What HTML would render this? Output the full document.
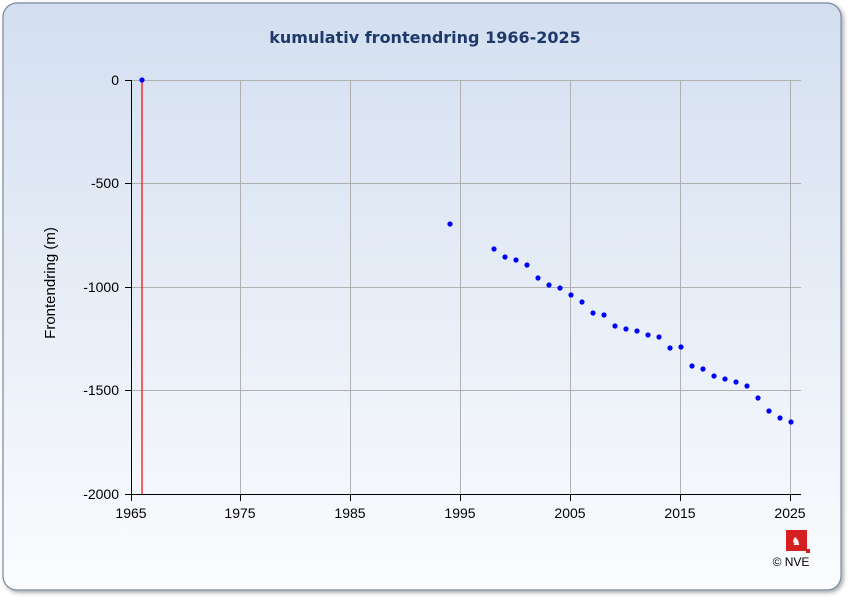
<!DOCTYPE html>
<html><head><meta charset="utf-8"><style>
body{margin:0;background:#fff;}
svg{display:block;font-family:"Liberation Sans","DejaVu Sans",sans-serif;}
</style></head><body>
<svg width="850" height="600" viewBox="0 0 850 600">
<defs>
<linearGradient id="bg" x1="0" y1="0" x2="0" y2="1">
<stop offset="0" stop-color="#d3dff0"/><stop offset="1" stop-color="#fbfcfe"/>
</linearGradient>
<filter id="sh" x="-5%" y="-5%" width="110%" height="110%"><feDropShadow dx="2" dy="2" stdDeviation="2" flood-color="#000" flood-opacity="0.35"/></filter>
</defs>
<rect x="3" y="3" width="838" height="587" rx="14" fill="url(#bg)" stroke="#7a8aa0" stroke-width="1.2" filter="url(#sh)"/>
<text x="425" y="43" text-anchor="middle" font-size="16" font-weight="bold" fill="#1f3a6a" font-family="DejaVu Sans,sans-serif">kumulativ frontendring 1966-2025</text>
<g stroke="#b0b0b0" stroke-width="1">
<line x1="240.5" y1="80" x2="240.5" y2="494"/><line x1="350.5" y1="80" x2="350.5" y2="494"/>
<line x1="460.5" y1="80" x2="460.5" y2="494"/><line x1="570.5" y1="80" x2="570.5" y2="494"/>
<line x1="680.5" y1="80" x2="680.5" y2="494"/><line x1="790.5" y1="80" x2="790.5" y2="494"/>
<line x1="131" y1="80.5" x2="801" y2="80.5"/><line x1="131" y1="183.5" x2="801" y2="183.5"/>
<line x1="131" y1="287.5" x2="801" y2="287.5"/><line x1="131" y1="390.5" x2="801" y2="390.5"/>
</g>
<g stroke="#000" stroke-width="1">
<line x1="131.5" y1="80" x2="131.5" y2="494"/><line x1="131" y1="494.5" x2="801" y2="494.5"/>
<line x1="125" y1="80.5" x2="131" y2="80.5"/><line x1="125" y1="183.5" x2="131" y2="183.5"/>
<line x1="125" y1="287.5" x2="131" y2="287.5"/><line x1="125" y1="390.5" x2="131" y2="390.5"/>
<line x1="125" y1="494.5" x2="131" y2="494.5"/>
<line x1="131.5" y1="494" x2="131.5" y2="501"/><line x1="240.5" y1="494" x2="240.5" y2="501"/>
<line x1="350.5" y1="494" x2="350.5" y2="501"/><line x1="460.5" y1="494" x2="460.5" y2="501"/>
<line x1="570.5" y1="494" x2="570.5" y2="501"/><line x1="680.5" y1="494" x2="680.5" y2="501"/>
<line x1="790.5" y1="494" x2="790.5" y2="501"/>
</g>
<g font-size="14" fill="#000" text-anchor="end">
<text x="119" y="85">0</text><text x="119" y="188">-500</text><text x="119" y="292">-1000</text>
<text x="119" y="395">-1500</text><text x="119" y="499">-2000</text>
</g>
<g font-size="14" fill="#000" text-anchor="middle">
<text x="131" y="518">1965</text><text x="240" y="518">1975</text><text x="350" y="518">1985</text>
<text x="460" y="518">1995</text><text x="570" y="518">2005</text><text x="680" y="518">2015</text><text x="790" y="518">2025</text>
</g>
<text transform="translate(55,283) rotate(-90)" text-anchor="middle" font-size="15">Frontendring (m)</text>
<line x1="142" y1="80" x2="142" y2="494" stroke="#f00" stroke-width="1.2"/>
<g fill="#0000ff">
<circle cx="142" cy="80" r="2.6"/><circle cx="450" cy="224" r="2.6"/>
<circle cx="494" cy="249" r="2.6"/><circle cx="505" cy="257" r="2.6"/><circle cx="516" cy="260" r="2.6"/>
<circle cx="527" cy="265" r="2.6"/><circle cx="538" cy="278" r="2.6"/><circle cx="549" cy="285" r="2.6"/>
<circle cx="560" cy="288" r="2.6"/><circle cx="571" cy="295" r="2.6"/><circle cx="582" cy="302" r="2.6"/>
<circle cx="593" cy="313" r="2.6"/><circle cx="604" cy="315" r="2.6"/><circle cx="615" cy="326" r="2.6"/>
<circle cx="626" cy="329" r="2.6"/><circle cx="637" cy="331" r="2.6"/><circle cx="648" cy="335" r="2.6"/>
<circle cx="659" cy="337" r="2.6"/><circle cx="670" cy="348" r="2.6"/><circle cx="681" cy="347" r="2.6"/>
<circle cx="692" cy="366" r="2.6"/><circle cx="703" cy="369" r="2.6"/><circle cx="714" cy="376" r="2.6"/>
<circle cx="725" cy="379" r="2.6"/><circle cx="736" cy="382" r="2.6"/><circle cx="747" cy="386" r="2.6"/>
<circle cx="758" cy="398" r="2.6"/><circle cx="769" cy="411" r="2.6"/><circle cx="780" cy="418" r="2.6"/>
<circle cx="791" cy="422" r="2.6"/>
</g>
<rect x="786" y="530" width="21" height="21" fill="#d42020"/>
<rect x="806" y="549" width="4" height="4" fill="#d42020"/>
<text x="796" y="545" text-anchor="middle" font-size="11" fill="#fff">♞</text>
<text x="791" y="566" text-anchor="middle" font-size="12" fill="#000">© NVE</text>
</svg>
</body></html>
